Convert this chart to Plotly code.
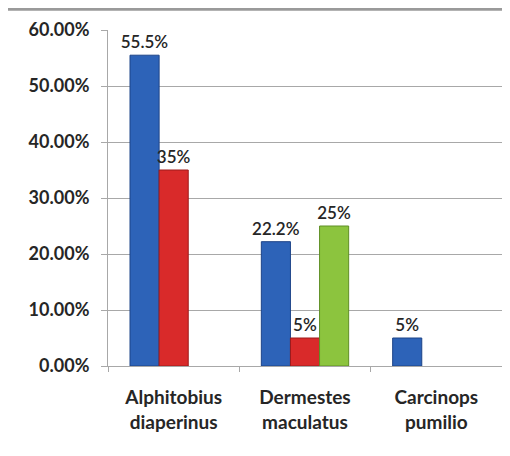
import plotly.graph_objects as go

categories = ["Alphitobius<br>diaperinus", "Dermestes<br>maculatus", "Carcinops<br>pumilio"]
blue_vals = [55.5, 22.2, 5]
red_vals = [35, 5, None]
green_vals = [None, 25, None]
blue_text = ["55.5%", "22.2%", "5%"]
red_text = ["35%", "5%", ""]
green_text = ["", "25%", ""]
y_ticks = [0, 10, 20, 30, 40, 50, 60]
y_tick_labels = ["0.00%", "10.00%", "20.00%", "30.00%", "40.00%", "50.00%", "60.00%"]

font_fam = "Lato"
fig = go.Figure()
for vals, txt, col, edge in [
    (blue_vals, blue_text, "#2d63b8", "#1d4488"),
    (red_vals, red_text, "#d92a2a", "#9e1a1a"),
    (green_vals, green_text, "#8cc43e", "#5f8f25"),
]:
    fig.add_trace(go.Bar(
        x=categories, y=vals, text=txt, textposition="outside",
        cliponaxis=False, constraintext="none",
        textfont=dict(family=font_fam, size=17, color="#262626", weight=600),
        marker=dict(color=col, line=dict(color=edge, width=1)),
    ))

fig.update_layout(
    width=510, height=456,
    margin=dict(l=100, r=16, t=22, b=98, autoexpand=False),
    plot_bgcolor="white", paper_bgcolor="white",
    barmode="group", bargap=0.335, bargroupgap=0,
    showlegend=False,
    font=dict(family=font_fam, color="#222222"),
)
fig.update_yaxes(
    range=[0, 60], tickvals=y_ticks, ticktext=y_tick_labels,
    showgrid=True, gridcolor="#a8a8a8", gridwidth=1,
    showline=True, linecolor="#a8a8a8", linewidth=1,
    ticks="outside", ticklen=6, tickcolor="#a8a8a8",
    tickfont=dict(family=font_fam, size=18, color="#262626", weight="bold"),
    ticklabelstandoff=8,
    zeroline=False,
)
fig.update_xaxes(
    showline=True, linecolor="#a8a8a8", linewidth=1,
    ticks="outside", ticklen=5, tickcolor="#a8a8a8", tickson="boundaries",
    tickfont=dict(family=font_fam, size=19, color="#262626", weight="bold"),
    ticklabelstandoff=14,
)
fig.add_shape(type="line", xref="paper", yref="paper",
              x0=-0.254, x1=1.02, y0=1.062, y1=1.062,
              line=dict(color="#9a9a9a", width=3))
fig.write_html("out.html")
